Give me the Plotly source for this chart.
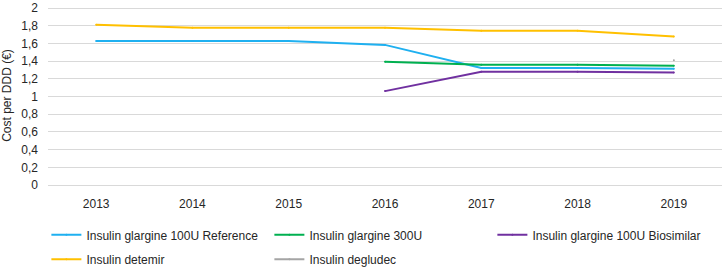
import plotly.graph_objects as go

years = [2013, 2014, 2015, 2016, 2017, 2018, 2019]
year_labels = ["2013", "2014", "2015", "2016", "2017", "2018", "2019"]
y_ticks = [0, 0.2, 0.4, 0.6, 0.8, 1.0, 1.2, 1.4, 1.6, 1.8, 2.0]
y_tick_labels = ["0", "0,2", "0,4", "0,6", "0,8", "1", "1,2", "1,4", "1,6", "1,8", "2"]

glargine_ref = [1.63, 1.63, 1.63, 1.585, 1.325, 1.325, 1.315]
glargine_300 = [None, None, None, 1.395, 1.36, 1.36, 1.348]
glargine_bio = [None, None, None, 1.062, 1.281, 1.281, 1.274]
detemir = [1.813, 1.78, 1.78, 1.78, 1.746, 1.746, 1.68]
degludec = [None, None, None, None, None, None, 1.41]

series = [
    ("Insulin glargine 100U Reference", glargine_ref, "#1FB0F0", "legend"),
    ("Insulin glargine 300U", glargine_300, "#00B050", "legend"),
    ("Insulin glargine 100U Biosimilar", glargine_bio, "#7030A0", "legend"),
    ("Insulin detemir", detemir, "#FFC000", "legend2"),
    ("Insulin degludec", degludec, "#A5A5A5", "legend2"),
]

FONT = "Liberation Sans, Arial, sans-serif"
TXT = "#262626"

fig = go.Figure()
for name, vals, color, lg in series:
    fig.add_trace(go.Scatter(
        x=years, y=vals, name=name, mode="lines+markers",
        line=dict(color=color, width=2),
        marker=dict(color=color, size=2),
        legend=lg, connectgaps=False,
    ))

legend_common = dict(
    orientation="h", xanchor="left", yanchor="middle",
    entrywidth=178, entrywidthmode="pixels", itemwidth=30,
    font=dict(family=FONT, size=12, color=TXT),
    bgcolor="rgba(0,0,0,0)", tracegroupgap=0, itemclick=False,
)

fig.update_layout(
    width=726, height=268,
    margin=dict(l=48, r=4, t=5.5, b=83, autoexpand=False),
    paper_bgcolor="white", plot_bgcolor="white",
    font=dict(family=FONT, size=12, color=TXT),
    showlegend=True,
    legend=dict(x=-0.0024, y=-0.2786, **legend_common),
    legend2=dict(x=-0.0024, y=-0.415, **legend_common),
    xaxis=dict(
        range=[2012.5, 2019.5], tickvals=years, ticktext=year_labels,
        showgrid=False, zeroline=False, showline=False, ticks="",
        tickfont=dict(family=FONT, size=12, color=TXT),
        ticklabelstandoff=10, automargin=False,
    ),
    yaxis=dict(
        range=[0, 2.025], tickvals=y_ticks, ticktext=y_tick_labels,
        showgrid=True, gridcolor="#D9D9D9", gridwidth=1,
        zeroline=True, zerolinecolor="#D9D9D9", zerolinewidth=1,
        showline=False, ticks="",
        tickfont=dict(family=FONT, size=12, color=TXT),
        ticklabeloverflow="allow",
        title=dict(text="Cost per DDD (€)", font=dict(family=FONT, size=12, color=TXT), standoff=9),
        ticklabelstandoff=9, automargin=False,
    ),
)

fig.write_html(
    "out.html",
    config={"displayModeBar": False, "staticPlot": True},
    post_script="document.body.style.margin='0';",
)
